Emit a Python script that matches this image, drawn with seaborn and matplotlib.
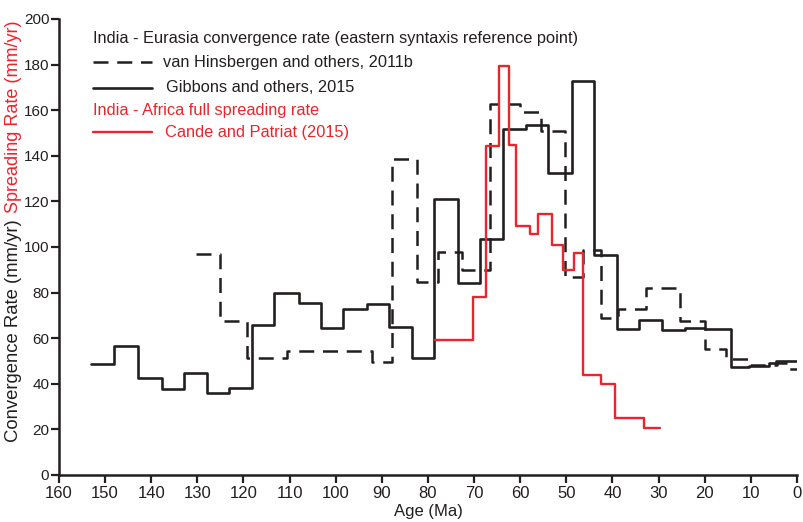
import numpy as np
import matplotlib.pyplot as plt
import seaborn as sns

# ============================================================
# CONFIG
# ============================================================

sns.set_style("ticks")
plt.rcParams["font.family"] = ["Liberation Sans Narrow", "Liberation Sans", "DejaVu Sans"]

DARK = "#231f20"
RED = "#e8262b"
DASH = (0, (6, 3.5))

# ============================================================
# DATA (step edges in Ma, values in mm/yr)
# ============================================================

gibbons_age = [153, 148, 142.8, 137.7, 133, 128, 123.1, 118.2, 113.3, 108,
               103.3, 98.4, 93.3, 88.4, 83.5, 78.6, 73.6, 68.7, 63.8, 58.8,
               53.9, 48.7, 44.1, 39.1, 34.2, 29.2, 24.3, 20, 14.3, 10.5,
               6, 4.5, 0]
gibbons_rate = [48.5, 56.5, 42.7, 37.8, 44.9, 36.1, 38, 65.6, 79.8, 75.3,
                64.6, 72.8, 74.9, 64.8, 51.2, 120.9, 84.1, 103.4, 151.6, 153.5,
                132.3, 172.9, 96.5, 63.9, 68, 63.5, 64.6, 63.9, 47.2, 48,
                49.3, 50]

hinsbergen_age = [130.2, 125.1, 119.3, 110.5, 92.2, 87.7, 82.4, 77.8, 72.7,
                  66.6, 60.1, 55.4, 50.3, 46.3, 42.6, 38.8, 32.8, 25.4, 19.9,
                  15.4, 10.4, 4.4, 2.1, 0]
hinsbergen_rate = [96.9, 67.7, 51.3, 54.5, 49.4, 138.5, 84.8, 97.9, 89.9,
                   162.7, 159.1, 151, 87, 98.5, 68.7, 72.8, 81.9, 67.6, 55.4,
                   51, 48.2, 49.3, 46.4]

cande_age = [78.5, 70.3, 67.4, 64.7, 62.4, 61, 57.9, 56.1, 53.1, 50.8, 48.3,
             46.5, 42.6, 39.5, 33.1, 29.6]
cande_rate = [59.2, 77.9, 144.3, 179.4, 144.7, 109.2, 105.7, 114.5, 100.9,
              89.9, 97.5, 43.9, 40.1, 24.9, 20.5]

x_ticks = list(range(0, 161, 10))
y_ticks = list(range(0, 201, 20))

# ============================================================
# PLOT
# ============================================================

fig = plt.figure(figsize=(8.04, 5.22), dpi=100)
ax = fig.add_axes([59 / 804, 47 / 522, 738 / 804, 456 / 522])


def step_line(ages, rates, **kw):
    y = list(rates) + [rates[-1]]
    sns.lineplot(x=ages, y=y, sort=False, estimator=None,
                 drawstyle="steps-post", ax=ax, **kw)


step_line(hinsbergen_age, hinsbergen_rate, color=DARK, linewidth=1.8,
          linestyle=DASH)
step_line(gibbons_age, gibbons_rate, color=DARK, linewidth=1.9)
step_line(cande_age, cande_rate, color=RED, linewidth=1.7)

ax.set_xlim(160, 0)
ax.set_ylim(0, 200)
ax.set_xticks(x_ticks)
ax.set_yticks(y_ticks)
ax.tick_params(axis="both", direction="out", length=6, width=1.6,
               colors=DARK, labelcolor=DARK)
ax.tick_params(axis="x", labelsize=12, pad=2)
ax.tick_params(axis="y", labelsize=11, pad=1)

for side in ["top", "right"]:
    ax.spines[side].set_visible(False)
for side in ["left", "bottom"]:
    ax.spines[side].set_linewidth(1.8)
    ax.spines[side].set_color(DARK)

ax.set_xlabel("Age (Ma)", fontsize=12, color=DARK, labelpad=2)
ax.set_ylabel("")

fig.text(14 / 804, 1 - 331 / 522, "Convergence Rate (mm/yr)", rotation=90,
         ha="center", va="center", fontsize=13.3, color=DARK)
fig.text(14 / 804, 1 - 117 / 522, "Spreading Rate (mm/yr)", rotation=90,
         ha="center", va="center", fontsize=13, color=RED)

# ============================================================
# LEGEND (hand placed like the original)
# ============================================================

tr = fig.transFigure
LEG_FS = 11.8


def fx(px):
    return px / 804


def fy(py):
    return 1 - py / 522


fig.text(fx(93), fy(38), "India - Eurasia convergence rate (eastern syntaxis reference point)",
         fontsize=LEG_FS, color=DARK, va="center")
fig.add_artist(plt.Line2D([fx(93), fx(152)], [fy(62), fy(62)], transform=tr,
                          color=DARK, linewidth=1.8, linestyle=DASH))
fig.text(fx(163), fy(62), "van Hinsbergen and others, 2011b",
         fontsize=LEG_FS, color=DARK, va="center")
fig.add_artist(plt.Line2D([fx(93), fx(152)], [fy(88), fy(88)], transform=tr,
                          color=DARK, linewidth=1.9))
fig.text(fx(166), fy(88), "Gibbons and others, 2015",
         fontsize=LEG_FS, color=DARK, va="center")
fig.text(fx(93), fy(111), "India - Africa full spreading rate",
         fontsize=LEG_FS, color=RED, va="center")
fig.add_artist(plt.Line2D([fx(93), fx(152)], [fy(132), fy(132)], transform=tr,
                          color=RED, linewidth=1.7))
fig.text(fx(165), fy(132), "Cande and Patriat (2015)",
         fontsize=LEG_FS, color=RED, va="center")

plt.savefig("out.png", dpi=100)
